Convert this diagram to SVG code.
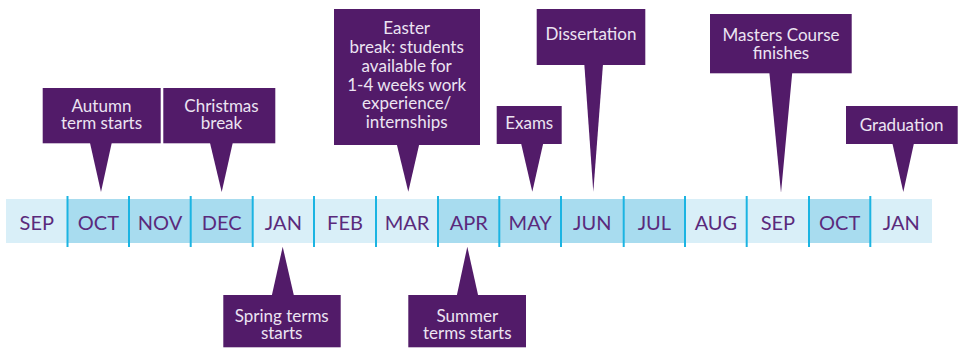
<svg xmlns="http://www.w3.org/2000/svg" width="962" height="348" viewBox="0 0 962 348">
<style>
.lt{fill:#d9eff8}
.dk{fill:#a8dcef}
.dv{stroke:#1bb4e2;stroke-width:2}
.m{font-family:Lato,"Open Sans","Liberation Sans",sans-serif;font-size:20px;fill:#5a2a7c;text-anchor:middle}
.box{fill:#521b69}
.t{font-family:Lato,"Open Sans","Liberation Sans",sans-serif;font-size:17px;fill:#ece4f2;text-anchor:middle}
</style>
<rect width="962" height="348" fill="#ffffff"/>
<g id="timeline">
<rect class="lt" x="6" y="199" width="61.7" height="44"/>
<rect class="dk" x="67.7" y="199" width="185" height="44"/>
<rect class="lt" x="252.7" y="199" width="185.3" height="44"/>
<rect class="dk" x="438" y="199" width="247" height="44"/>
<rect class="lt" x="685" y="199" width="124" height="44"/>
<rect class="dk" x="809" y="199" width="61.3" height="44"/>
<rect class="lt" x="870.3" y="199" width="61.7" height="44"/>
<g class="dv">
<line x1="67.5" y1="196" x2="67.5" y2="247"/>
<line x1="129" y1="196" x2="129" y2="247"/>
<line x1="190.7" y1="196" x2="190.7" y2="247"/>
<line x1="252.7" y1="196" x2="252.7" y2="247"/>
<line x1="314" y1="196" x2="314" y2="247"/>
<line x1="376" y1="196" x2="376" y2="247"/>
<line x1="438" y1="196" x2="438" y2="247"/>
<line x1="499.3" y1="196" x2="499.3" y2="247"/>
<line x1="561" y1="196" x2="561" y2="247"/>
<line x1="623.7" y1="196" x2="623.7" y2="247"/>
<line x1="685" y1="196" x2="685" y2="247"/>
<line x1="746.7" y1="196" x2="746.7" y2="247"/>
<line x1="809" y1="196" x2="809" y2="247"/>
<line x1="870.3" y1="196" x2="870.3" y2="247"/>
</g>
<text class="m" x="36.8" y="230">SEP</text>
<text class="m" x="98.4" y="230">OCT</text>
<text class="m" x="160" y="230">NOV</text>
<text class="m" x="221.7" y="230">DEC</text>
<text class="m" x="283.4" y="230">JAN</text>
<text class="m" x="345" y="230">FEB</text>
<text class="m" x="407" y="230">MAR</text>
<text class="m" x="468.7" y="230">APR</text>
<text class="m" x="530.2" y="230">MAY</text>
<text class="m" x="592.3" y="230">JUN</text>
<text class="m" x="654.4" y="230">JUL</text>
<text class="m" x="715.9" y="230">AUG</text>
<text class="m" x="777.9" y="230">SEP</text>
<text class="m" x="839.7" y="230">OCT</text>
<text class="m" x="901.2" y="230">JAN</text>
</g>
<g id="autumn">
<rect class="box" x="42.7" y="88" width="118" height="55.3"/>
<polygon class="box" points="90,143 111.7,143 101,192"/>
<text class="t" x="101.5" y="111.7">Autumn</text>
<text class="t" x="101.5" y="129.3">term starts</text>
</g>
<g id="christmas">
<rect class="box" x="163.3" y="88" width="112" height="55.3"/>
<polygon class="box" points="210,143 232.7,143 221.7,192"/>
<text class="t" x="221.5" y="111.7">Christmas</text>
<text class="t" x="221.5" y="129.3">break</text>
</g>
<g id="easter">
<rect class="box" x="334" y="9" width="146" height="136"/>
<polygon class="box" points="396.7,144 419.3,144 408.3,191.7"/>
<text class="t" x="406.7" y="34.3">Easter</text>
<text class="t" x="406.7" y="53.3">break: students</text>
<text class="t" x="406.7" y="71.7">available for</text>
<text class="t" x="406.7" y="90.7">1-4 weeks work</text>
<text class="t" x="406.7" y="109">experience/</text>
<text class="t" x="406.7" y="127.7">internships</text>
</g>
<g id="exams">
<rect class="box" x="496.7" y="106" width="65" height="38"/>
<polygon class="box" points="521,143 543.3,143 532.3,191.7"/>
<text class="t" x="529.2" y="129.3">Exams</text>
</g>
<g id="dissertation">
<rect class="box" x="536.7" y="9" width="108.6" height="56"/>
<polygon class="box" points="584.3,64 603,64 593.3,191.7"/>
<text class="t" x="591" y="40">Dissertation</text>
</g>
<g id="masters">
<rect class="box" x="710" y="14" width="141.7" height="59.3"/>
<polygon class="box" points="769.3,72 792.3,72 781,192.7"/>
<text class="t" x="781" y="40.7">Masters Course</text>
<text class="t" x="781" y="59.3">finishes</text>
</g>
<g id="graduation">
<rect class="box" x="846" y="106" width="111.7" height="38"/>
<polygon class="box" points="892.3,143 914,143 903.3,192"/>
<text class="t" x="901.7" y="130.7">Graduation</text>
</g>
<g id="spring">
<rect class="box" x="223.3" y="295" width="117.4" height="52.3"/>
<polygon class="box" points="271.7,296 294,296 282.7,246.7"/>
<text class="t" x="281.7" y="321.7">Spring terms</text>
<text class="t" x="281.7" y="339.3">starts</text>
</g>
<g id="summer">
<rect class="box" x="408.3" y="295" width="117.7" height="52.3"/>
<polygon class="box" points="456.7,296 478.3,296 467.3,246.7"/>
<text class="t" x="467.3" y="321.7">Summer</text>
<text class="t" x="467.3" y="339.3">terms starts</text>
</g>
</svg>
